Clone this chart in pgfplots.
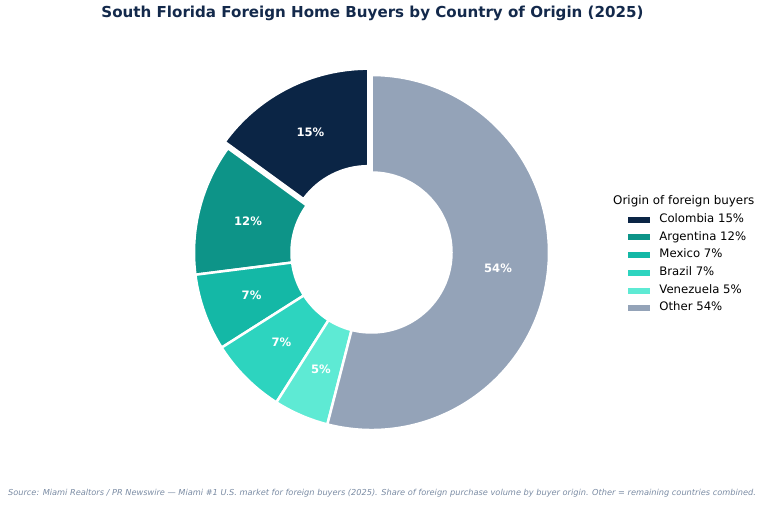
\documentclass[border=0pt]{standalone}
\usepackage{pgfplots}
\pgfplotsset{compat=1.18}
\usepackage{pgfplotstable}
\usepackage{fontspec}
\setmainfont{DejaVu Sans}

\definecolor{cColombia}{HTML}{0B2545}
\definecolor{cArgentina}{HTML}{0D9488}
\definecolor{cMexico}{HTML}{14B8A6}
\definecolor{cBrazil}{HTML}{2DD4BF}
\definecolor{cVenezuela}{HTML}{5EEAD4}
\definecolor{cOther}{HTML}{94A3B8}
\definecolor{titlecol}{HTML}{13294B}
\definecolor{srccol}{HTML}{7A8BA3}

% share of foreign purchase volume, percent
\pgfplotstableread{
name       value explode color
Colombia   15    0.04    cColombia
Argentina  12    0       cArgentina
Mexico     7     0       cMexico
Brazil     7     0       cBrazil
Venezuela  5     0       cVenezuela
Other      54    0       cOther
}\sharetable

\begin{document}
\begin{tikzpicture}
\begin{axis}[
    scale only axis,
    width=768bp, height=505bp,
    xmin=0, xmax=768, ymin=0, ymax=505,
    hide axis, clip=false,
    legend style={at={(axis cs:628,291.5)}, anchor=north west,
        draw=none, fill=none, inner sep=0pt, outer sep=0pt,
        font=\fontsize{11.7bp}{14bp}\selectfont,
        cells={anchor=west},
        nodes={inner sep=0pt, text height=9bp, text depth=3bp},
        row sep=5.7bp,
        /tikz/every odd column/.append style={column sep=10bp}},
    legend image code/.code={\fill[#1] (0bp,-2.5bp) rectangle (21bp,2.5bp);},
]
\path (axis cs:0,0) rectangle (axis cs:768,505);

\def\cum{0}
\pgfplotsforeachungrouped \i in {0,...,5}{
    \pgfplotstablegetelem{\i}{value}\of\sharetable \let\v\pgfplotsretval
    \pgfplotstablegetelem{\i}{explode}\of\sharetable \let\ex\pgfplotsretval
    \pgfplotstablegetelem{\i}{color}\of\sharetable \let\c\pgfplotsretval
    \pgfmathsetmacro\a{90+3.6*\cum}
    \pgfmathsetmacro\b{90+3.6*(\cum+\v)}
    \pgfmathsetmacro\m{(\a+\b)/2}
    \pgfmathsetmacro\cx{371.5+\ex*177.5*cos(\m)}
    \pgfmathsetmacro\cy{252.5+\ex*177.5*sin(\m)}
    \pgfmathsetmacro\lx{\cx+127.5*cos(\m)}
    \pgfmathsetmacro\ly{\cy+127.5*sin(\m)}
    \edef\temp{\noexpand\filldraw[fill=\c, draw=white, line width=2.5bp, line join=miter]
        (axis cs:\cx,\cy) ++(\a:177.5bp) arc[start angle=\a, end angle=\b, radius=177.5bp]
        -- ++(\b:-97.5bp) arc[start angle=\b, end angle=\a, radius=80bp] -- cycle;
        \noexpand\node[text=white, font=\noexpand\fontsize{11.6bp}{13bp}\noexpand\selectfont\noexpand\bfseries]
        at (axis cs:\lx,\ly) {\v\noexpand\%};}
    \temp
    \pgfmathsetmacro\cum{\cum+\v}
}

\addlegendimage{cColombia}\addlegendentry{Colombia 15\%}
\addlegendimage{cArgentina}\addlegendentry{Argentina 12\%}
\addlegendimage{cMexico}\addlegendentry{Mexico 7\%}
\addlegendimage{cBrazil}\addlegendentry{Brazil 7\%}
\addlegendimage{cVenezuela}\addlegendentry{Venezuela 5\%}
\addlegendimage{cOther}\addlegendentry{Other 54\%}

\node[anchor=west, inner sep=0pt, font=\fontsize{11.9bp}{14bp}\selectfont]
    at (axis cs:613,304) {Origin of foreign buyers};
\node[text=titlecol, inner sep=0pt, font=\fontsize{15.1bp}{18bp}\selectfont\bfseries]
    at (axis cs:372.5,492) {South Florida Foreign Home Buyers by Country of Origin (2025)};
\node[text=srccol, inner sep=0pt, font=\fontsize{8.22bp}{10bp}\selectfont\itshape]
    at (axis cs:382,12) {Source: Miami Realtors / PR Newswire — Miami \#1 U.S. market for foreign buyers (2025). Share of foreign purchase volume by buyer origin. Other = remaining countries combined.};
\end{axis}
\end{tikzpicture}
\end{document}
